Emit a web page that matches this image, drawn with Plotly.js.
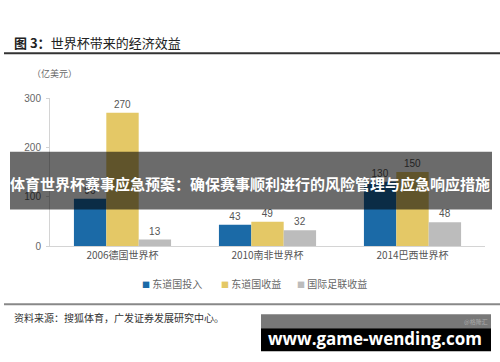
<!DOCTYPE html>
<html>
<head>
<meta charset="utf-8">
<script src="https://cdn.plot.ly/plotly-3.0.1.min.js"></script>
<style>html,body{margin:0;padding:0;background:#fff;}#chart{width:500px;height:362px;}</style>
</head>
<body>
<div id="chart"></div>
<script>
const categories = ['2006德国世界杯', '2010南非世界杯', '2014巴西世界杯'];
const hostInvest = [96, 43, 130];
const hostRevenue = [270, 49, 150];
const fifaRevenue = [13, 32, 48];
const seriesNames = ['东道国投入', '东道国收益', '国际足联收益'];
const seriesColors = ['#1b6aa7', '#e4c866', '#bcbcbc'];
const yTicks = [0, 100, 200, 300];

const CJK = '"Noto Sans CJK SC", "Noto Sans", sans-serif';
const NUM = '"Liberation Sans", Arial, sans-serif';

// plot area in pixels
const L = 50, R = 485, T = 98, B = 246.5;
const px = x => (x - L) / (R - L);
const py = y => (B - y) / (B - T);

function bar(i, vals) {
  return {
    type: 'bar', name: seriesNames[i], x: categories, y: vals,
    marker: {color: seriesColors[i]},
    text: vals.map(String), textposition: 'outside',
    textfont: {family: NUM, size: 10, color: '#555'},
    cliponaxis: false, hoverinfo: 'skip', showlegend: false
  };
}

const data = [bar(0, hostInvest), bar(1, hostRevenue), bar(2, fifaRevenue)];

// legend drawn as text entries (small square marker + name)
const legendX = [140, 219, 295];
const legendAnn = seriesNames.map((n, i) => ({
  xref: 'paper', yref: 'paper', x: px(legendX[i]), y: py(284), xanchor: 'left', yanchor: 'middle',
  showarrow: false,
  text: '<span style="color:' + seriesColors[i] + ';font-size:8px">■</span> ' + n,
  font: {family: CJK, size: 10, color: '#666'}
}));

const layout = {
  width: 500, height: 362,
  margin: {l: L, r: 500 - R, t: T, b: 362 - B, pad: 0},
  paper_bgcolor: '#fff', plot_bgcolor: '#fff',
  barmode: 'group', bargap: 0.33, bargroupgap: 0,
  showlegend: false,
  xaxis: {
    showline: true, linecolor: '#d4d4d4', linewidth: 1, ticks: '',
    showgrid: false, zeroline: false,
    tickfont: {family: CJK, size: 10, color: '#555'}
  },
  yaxis: {
    range: [0, 300], tickvals: yTicks, ticktext: yTicks.map(String),
    showline: true, linecolor: '#d4d4d4', linewidth: 1,
    ticks: 'outside', ticklen: 3, tickcolor: '#d4d4d4', ticklabelstandoff: 3,
    showgrid: false, zeroline: false,
    tickfont: {family: NUM, size: 10, color: '#666'}
  },
  shapes: [
    {type: 'line', xref: 'paper', yref: 'paper', x0: px(4), x1: px(500), y0: py(53), y1: py(53), line: {color: '#333', width: 2}},
    {type: 'line', xref: 'paper', yref: 'paper', x0: px(4), x1: px(500), y0: py(305), y1: py(305), line: {color: '#888', width: 2}},
    {type: 'rect', xref: 'paper', yref: 'paper', x0: px(10), x1: px(492), y0: py(152), y1: py(210), fillcolor: 'rgba(0,0,0,0.58)', line: {width: 0}, layer: 'above'},
    {type: 'rect', xref: 'paper', yref: 'paper', x0: px(261), x1: px(491), y0: py(315), y1: py(329), fillcolor: '#787878', line: {width: 0}, layer: 'above'},
    {type: 'rect', xref: 'paper', yref: 'paper', x0: px(261), x1: px(491), y0: py(329), y1: py(352), fillcolor: '#000', line: {width: 0}, layer: 'above'}
  ],
  annotations: [
    {xref: 'paper', yref: 'paper', x: px(12), y: py(42), xanchor: 'left', yanchor: 'middle', showarrow: false,
     text: '<b>图 3：</b>世界杯带来的经济效益', font: {family: CJK, size: 13, color: '#222'}},
    {xref: 'paper', yref: 'paper', x: px(30), y: py(73), xanchor: 'left', yanchor: 'middle', showarrow: false,
     text: '（亿美元）', font: {family: CJK, size: 9, color: '#666'}},
    {xref: 'paper', yref: 'paper', x: px(12), y: py(318), xanchor: 'left', yanchor: 'middle', showarrow: false,
     text: '资料来源：搜狐体育，广发证券发展研究中心。', font: {family: CJK, size: 10, color: '#333'}},
    {xref: 'paper', yref: 'paper', x: px(250), y: py(183.5), xanchor: 'center', yanchor: 'middle', showarrow: false,
     text: '<b>体育世界杯赛事应急预案：确保赛事顺利进行的风险管理与应急响应措施</b>', font: {family: CJK, size: 15, color: '#fff'}},
    {xref: 'paper', yref: 'paper', x: px(375), y: py(339), xanchor: 'center', yanchor: 'middle', showarrow: false,
     text: '<b>www.game-wending.com</b>', font: {family: '"Open Sans", "DejaVu Sans", sans-serif', size: 17, color: '#fff'}},
    {xref: 'paper', yref: 'paper', x: px(490), y: py(322), xanchor: 'right', yanchor: 'middle', showarrow: false,
     text: '@格隆汇', font: {family: CJK, size: 6, color: '#aaa'}}
  ].concat(legendAnn)
};

Plotly.newPlot('chart', data, layout, {displayModeBar: false, staticPlot: true});
</script>
</body>
</html>
